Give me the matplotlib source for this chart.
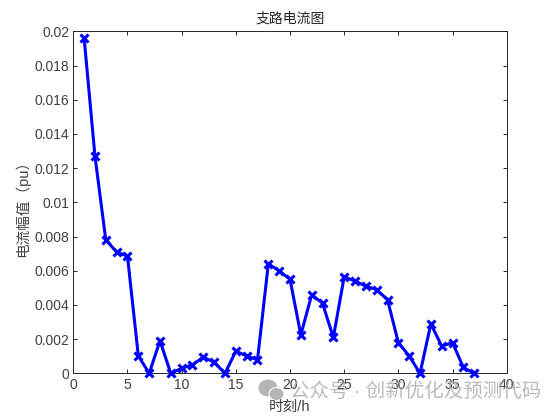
import matplotlib
matplotlib.use("Agg")
import matplotlib.pyplot as plt
from matplotlib.patches import Ellipse

plt.rcParams['font.family'] = ['Liberation Sans', 'Noto Sans CJK SC', 'DejaVu Sans']

hours = list(range(1, 38))
current = [0.0196, 0.0127, 0.0078, 0.0071, 0.00685, 0.00103, 0.0, 0.0019, 0.0, 0.0003,
           0.0005, 0.00095, 0.00065, 0.0, 0.0013, 0.00102, 0.0008, 0.0064, 0.0060, 0.0055,
           0.00225, 0.0046, 0.0041, 0.0021, 0.00565, 0.0054, 0.0051, 0.0049, 0.0043, 0.0018,
           0.00102, 0.0, 0.0029, 0.0016, 0.0018, 0.00035, 0.0]
xticks = [0, 5, 10, 15, 20, 25, 30, 35, 40]
yticks = [0, 0.002, 0.004, 0.006, 0.008, 0.01, 0.012, 0.014, 0.016, 0.018, 0.02]
yticklabels = ["0", "0.002", "0.004", "0.006", "0.008", "0.01", "0.012", "0.014", "0.016", "0.018", "0.02"]
title = "支路电流图"
xlabel = "时刻/h"
ylabel = "电流幅值（pu）"
watermark = "公众号 · 创新优化及预测代码"

W, H = 560, 420
fig = plt.figure(figsize=(W / 100, H / 100), dpi=100)
ax = fig.add_axes([73.3 / W, 1 - 373.4 / H, 433.4 / W, 342.1 / H])

ax.plot(hours, current, color="#0000ff", lw=2.2, marker="x", ms=5.5, mew=2.2, clip_on=False, zorder=3)
ax.set_xlim(0, 40)
ax.set_ylim(0, 0.02)
ax.set_xticks(xticks)
ax.set_yticks(yticks)
ax.set_yticklabels(yticklabels)
ax.tick_params(direction="in", top=True, right=True, length=3.2, width=0.7,
               labelsize=10, labelcolor="#404040", color="#262626", pad=3)
for s in ax.spines.values():
    s.set_linewidth(0.7)
    s.set_color("#262626")

fig.text(290 / W, 1 - 19 / H, title, ha="center", va="center", fontsize=10, color="#262626")
fig.text(290 / W, 1 - 407 / H, xlabel, ha="center", va="center", fontsize=10.5, color="#404040")
fig.text(22 / W, 1 - 205 / H, ylabel, ha="center", va="center", rotation=90, fontsize=10.5, color="#404040")

# watermark
ov = fig.add_axes([0, 0, 1, 1], facecolor="none")
ov.set_xlim(0, W)
ov.set_ylim(H, 0)
ov.axis("off")
ov.add_patch(Ellipse((268, 388), 19, 17, color="#b4b4b4", lw=0))
ov.add_patch(Ellipse((276.5, 394), 15, 13, fc="#b4b4b4", ec="white", lw=0.8))
ov.text(415.5, 392, watermark, ha="center", va="center", fontsize=14, color="#a8a8a8", alpha=0.8)

fig.savefig("out.png", dpi=100)
